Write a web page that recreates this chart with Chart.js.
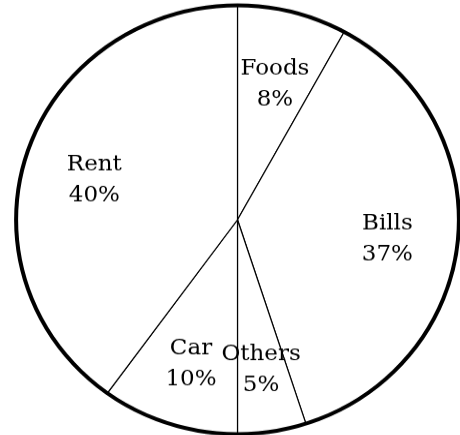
<!DOCTYPE html>
<html>
<head>
<meta charset="utf-8">
<title>Monthly budget</title>
<script src="https://cdn.jsdelivr.net/npm/chart.js@4.4.1/dist/chart.umd.min.js"></script>
<style>
  html, body { margin: 0; padding: 0; background: #fff; overflow: hidden; }
  #frame { width: 460px; height: 435px; overflow: hidden; }
  /* the pie is drawn slightly flattened, as an ellipse */
  #wrap { width: 460px; height: 460px; transform: scaleY(0.968); transform-origin: 0 0; }
  canvas { display: block; }
</style>
</head>
<body>
<div id="frame"><div id="wrap"><canvas id="pie" width="460" height="460"></canvas></div></div>
<script>
// Budget categories, clockwise from the top
const categories = ["Foods", "Bills", "Others", "Car", "Rent"];
// Share of the budget, in percent
const shares = [8, 37, 5, 10, 40];

// Writes "Category" and "NN%" inside each slice, and traces the rim heavier
const sliceText = {
  id: 'sliceText',
  afterDatasetsDraw(chart) {
    const ctx = chart.ctx;
    const meta = chart.getDatasetMeta(0);
    ctx.save();
    ctx.fillStyle = '#000';
    ctx.textAlign = 'center';
    ctx.textBaseline = 'alphabetic';
    ctx.font = '23px "DejaVu Serif", serif';
    meta.data.forEach((arc, i) => {
      const p = arc.getProps(['x', 'y', 'startAngle', 'endAngle', 'outerRadius'], true);
      const mid = (p.startAngle + p.endAngle) / 2;
      const r = p.outerRadius * 0.68;
      const cx = p.x + Math.cos(mid) * r;
      const cy = p.y + Math.sin(mid) * r;
      ctx.fillText(categories[i], cx, cy - 4);
      ctx.fillText(shares[i] + '%', cx, cy + 28);
    });
    // outer rim
    const first = meta.data[0].getProps(['x', 'y', 'outerRadius'], true);
    ctx.beginPath();
    ctx.lineWidth = 4;
    ctx.strokeStyle = '#000';
    ctx.arc(first.x, first.y, first.outerRadius, 0, Math.PI * 2);
    ctx.stroke();
    ctx.restore();
  }
};

new Chart(document.getElementById('pie'), {
  type: 'pie',
  data: {
    labels: categories,
    datasets: [{
      data: shares,
      backgroundColor: '#ffffff',
      borderColor: '#000000',
      borderWidth: 1.2
    }]
  },
  options: {
    responsive: false,
    animation: false,
    devicePixelRatio: 1,
    layout: { padding: { left: 15.5, right: 0.5, top: 5, bottom: 11 } },
    plugins: {
      legend: { display: false },
      tooltip: { enabled: false }
    }
  },
  plugins: [sliceText]
});
</script>
</body>
</html>
